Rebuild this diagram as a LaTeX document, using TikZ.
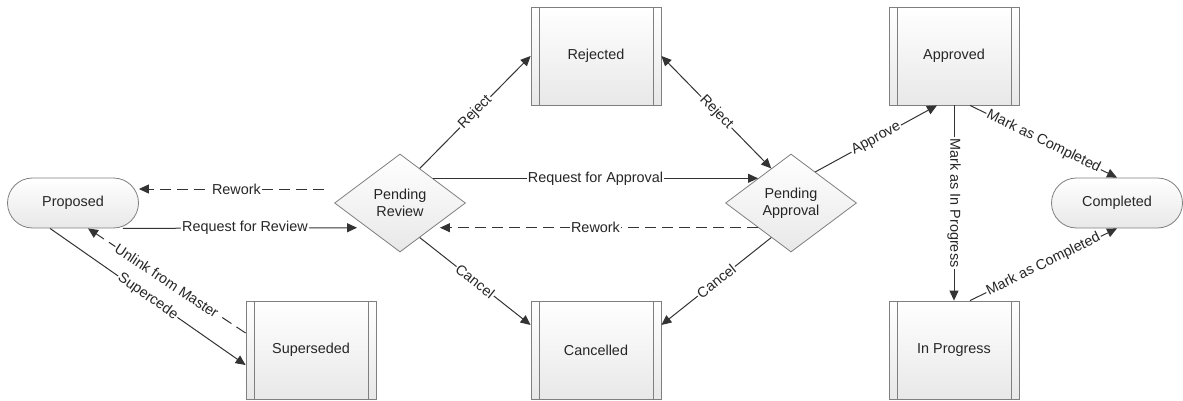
\documentclass[tikz,border=0pt]{standalone}
\usepackage{fontspec}
\setmainfont{Liberation Sans}
\usepackage{tikz}
\usetikzlibrary{shapes.geometric, arrows.meta, calc}
\definecolor{edgegray}{HTML}{7F7F7F}
\definecolor{linegray}{HTML}{333333}

\begin{document}
\begin{tikzpicture}[
        x=0.5pt, y=-0.5pt,
        every node/.style={font=\fontsize{7.2}{8.4}\selectfont, text=black!85},
        state/.style={draw=edgegray, top color=white, bottom color=black!9,
                      minimum width=65pt, minimum height=49pt, inner sep=0pt,
                      path picture={
                        \draw[edgegray] ([xshift=4pt]path picture bounding box.north west) -- ([xshift=4pt]path picture bounding box.south west);
                        \draw[edgegray] ([xshift=-4pt]path picture bounding box.north east) -- ([xshift=-4pt]path picture bounding box.south east);}},
        terminal/.style={draw=edgegray, top color=white, bottom color=black!9,
                         rounded corners=12.5pt, minimum width=65.5pt, minimum height=25pt},
        decision/.style={diamond, draw=edgegray, top color=white, bottom color=black!9,
                         aspect=1.33, minimum width=65.5pt, minimum height=49pt,
                         inner sep=0pt, align=center},
        flow/.style={draw=linegray, line width=0.5pt, -{Triangle[length=5pt,width=4.5pt]}},
        rework/.style={flow, dash pattern=on 5.5pt off 3pt},
        lbl/.style={fill=white, inner sep=0.6pt, sloped},
    ]
    \useasboundingbox (0,0) rectangle (1183,401);

    % states
    \node[terminal] (proposed)   at (73,203)   {Proposed};
    \node[decision] (review)     at (400,203)  {Pending\\Review};
    \node[state]    (rejected)   at (596,56)   {Rejected};
    \node[decision] (approval)   at (791,203)  {Pending\\Approval};
    \node[state]    (cancelled)  at (596,350)  {Cancelled};
    \node[state]    (superseded) at (311,350)  {Superseded};
    \node[state]    (approved)   at (954,56)   {Approved};
    \node[state]    (inprogress) at (954,350)  {In Progress};
    \node[terminal] (completed)  at (1117,203) {Completed};

    % transitions
    \draw[flow, shorten >=5pt] ([xshift=-8pt]proposed.south east) -- node[lbl] {Request for Review} (review.south west);
    \draw[rework, shorten <=5pt] ([yshift=7pt]review.west) -- node[lbl] {Rework} ([yshift=7pt]proposed.east);
    \draw[rework] ([yshift=8.5pt]superseded.west) -- node[lbl] {Unlink from Master} ([xshift=7.5pt]proposed.south);
    \draw[flow] ([xshift=-11.5pt]proposed.south) -- node[lbl] {Supercede} ([yshift=-7.5pt]superseded.west);

    \draw[flow] ($(review.north)!0.3!(review.east)$) -- node[lbl] {Reject} (rejected.west);
    \draw[flow, {Triangle[length=5pt,width=4.5pt]}-{Triangle[length=5pt,width=4.5pt]}] (rejected.east) -- node[lbl] {Reject} ($(approval.north)!0.3!(approval.west)$);
    \draw[flow] (review.north east) -- node[lbl] {Request for Approval} (approval.north west);
    \draw[rework, shorten >=3.5pt] (approval.south west) -- node[lbl] {Rework} (review.south east);
    \draw[flow] ($(review.south)!0.3!(review.east)$) -- node[lbl] {Cancel} ([yshift=12.5pt]cancelled.west);
    \draw[flow] ($(approval.south)!0.3!(approval.west)$) -- node[lbl] {Cancel} ([yshift=12.5pt]cancelled.east);

    \draw[flow] ($(approval.north)!0.37!(approval.east)$) -- node[lbl] {Approve} ([xshift=-8.5pt]approved.south);
    \draw[flow] (approved.south) -- node[lbl] {Mark as In Progress} (inprogress.north);
    \draw[flow] ([xshift=8pt]approved.south) -- node[lbl] {Mark as Completed} (completed.north);
    \draw[flow] ([xshift=8pt]inprogress.north) -- node[lbl] {Mark as Completed} (completed.south);
\end{tikzpicture}
\end{document}
